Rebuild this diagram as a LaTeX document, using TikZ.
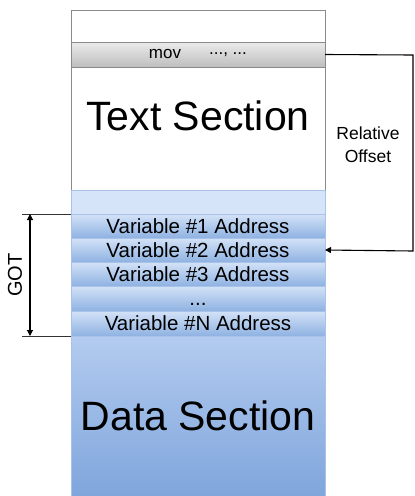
\documentclass[tikz,border=0pt]{standalone}
\usepackage{fontspec}
\setmainfont{Liberation Sans}
\usetikzlibrary{arrows.meta,positioning}
\definecolor{rowtop}{HTML}{D3E2F7}
\definecolor{rowbot}{HTML}{8FB2E2}
\definecolor{rowline}{HTML}{A9C3E8}
\definecolor{datatop}{HTML}{B3CBEF}
\definecolor{databot}{HTML}{7FA5DC}
\definecolor{pad}{HTML}{D5E4F8}
\definecolor{frame}{HTML}{8A8A8A}
\definecolor{movtop}{HTML}{EBEBEB}
\definecolor{movbot}{HTML}{BEBEBE}
\tikzset{
  cell/.style={draw=#1, minimum width=254pt, inner sep=0pt, anchor=north west, outer sep=0pt},
  gotrow/.style={cell=rowline, minimum height=24pt, top color=rowtop, bottom color=rowbot,
    font=\fontsize{20.5}{20.5}\selectfont, text height=15.5pt, text depth=1.5pt},
  bigtext/.style={font=\fontsize{41}{41}\selectfont},
  conn/.style={line width=1.1pt, black},
  tip/.style={-{Triangle[length=6pt,width=6pt]}},
}
\begin{document}
\begin{tikzpicture}[x=1pt,y=-1pt]
\useasboundingbox (0,0) rectangle (415,496);
% text segment
\node[cell=frame, minimum height=32pt, fill=white] (top) at (71,10) {};
\node[cell=frame, minimum height=25pt, top color=movtop, bottom color=movbot] (mov) at (71,42) {};
\node[font=\fontsize{17}{17}\selectfont] (movop) at (165,54) {mov};
\node[font=\fontsize{17}{17}\selectfont] (movarg) at (228,55) {..., ...};
\node[cell=frame, minimum height=123pt, fill=white] (text) at (71,67) {};
\node[bigtext] (textlbl) at (198,116) {Text Section};
% data segment
\node[cell=rowline, minimum height=24pt, fill=pad] (pad) at (71,190) {};
\node[gotrow] (v1) at (71,214) {Variable \#1 Address};
\node[gotrow] (v2) at (71,238) {Variable \#2 Address};
\node[gotrow] (v3) at (71,262) {Variable \#3 Address};
\node[gotrow, minimum height=25pt] (vdots) at (71,286) {...};
\node[gotrow, minimum height=25pt] (vn) at (71,311) {Variable \#N Address};
\node[cell=rowline, minimum height=162pt, top color=datatop, bottom color=databot] (data) at (71,336) {};
\node[bigtext] (datalbl) at (198,416) {Data Section};
% relative offset from the mov instruction to its GOT entry
\coordinate (c1) at (413,55);
\coordinate (c2) at (413,251);
\draw[conn, tip] (mov.east) -- (c1) -- (c2) -- (v2.east);
\node[font=\fontsize{17.5}{23}\selectfont, align=center] (rel) at (368,145) {Relative\\Offset};
% GOT extent
\coordinate (g1) at (22,214);
\coordinate (g2) at (22,336);
\draw[line width=1pt, black!80] (g1) -- (v1.north west);
\draw[line width=1pt, black!80] (g2) -- (vn.south west);
\coordinate (a1) at (30,214);
\coordinate (a2) at (30,336);
\draw[conn, {Triangle[length=6pt,width=6pt]}-{Triangle[length=6pt,width=6pt]}] (a1) -- (a2);
\node[rotate=90, font=\fontsize{20}{20}\selectfont] (got) at (15,275) {GOT};
\end{tikzpicture}
\end{document}
